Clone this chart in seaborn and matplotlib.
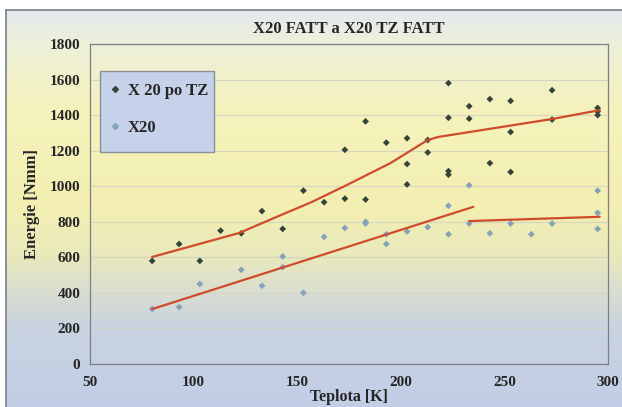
import numpy as np
import pandas as pd
import matplotlib
matplotlib.use("Agg")
import matplotlib.pyplot as plt
import seaborn as sns
from matplotlib.colors import LinearSegmentedColormap
from matplotlib.lines import Line2D
from matplotlib.patches import Rectangle

# ---------------- data ----------------
title = "X20 FATT a X20 TZ FATT"
xlabel = "Teplota [K]"
ylabel = "Energie [Nmm]"
series_names = ["X 20 po TZ", "X20"]

tz_x = [80, 93, 103, 113, 123, 133, 143, 153, 163, 173, 173, 183, 183, 193,
        203, 203, 203, 213, 213, 223, 223, 223, 223, 233, 233, 243, 243,
        253, 253, 253, 273, 273, 295, 295, 295]
tz_y = [580, 675, 580, 750, 735, 860, 760, 975, 910, 1205, 930, 1365, 925, 1245,
        1270, 1125, 1010, 1260, 1190, 1580, 1385, 1085, 1065, 1450, 1380, 1490, 1130,
        1480, 1305, 1080, 1540, 1375, 1440, 1420, 1400]

x20_x = [80, 93, 103, 123, 133, 143, 143, 153, 163, 173, 183, 183, 193, 193,
         203, 213, 223, 223, 233, 233, 243, 253, 263, 273, 295, 295, 295]
x20_y = [310, 320, 450, 530, 440, 605, 545, 400, 715, 765, 800, 790, 730, 675,
         745, 770, 890, 730, 1005, 790, 735, 790, 730, 790, 975, 850, 760]

trend_tz_x = [80, 122, 143, 157, 174, 195, 213, 218, 273, 296]
trend_tz_y = [602, 737, 842, 911, 1007, 1130, 1260, 1277, 1378, 1428]
trend_x20a_x = [80, 235]
trend_x20a_y = [309, 884]
trend_x20b_x = [233, 296]
trend_x20b_y = [804, 828]

xticks = [50, 100, 150, 200, 250, 300]
yticks = [0, 200, 400, 600, 800, 1000, 1200, 1400, 1600, 1800]

# ---------------- frames ----------------
pts = pd.DataFrame({
    "T": tz_x + x20_x,
    "E": tz_y + x20_y,
    "serie": [series_names[0]] * len(tz_x) + [series_names[1]] * len(x20_x),
})
lines = pd.DataFrame({
    "T": trend_tz_x + trend_x20a_x + trend_x20b_x,
    "E": trend_tz_y + trend_x20a_y + trend_x20b_y,
    "seg": ["a"] * len(trend_tz_x) + ["b"] * len(trend_x20a_x) + ["c"] * len(trend_x20b_x),
})

dark = "#36433a"
light = "#86a2bb"

# ---------------- style ----------------
sns.set_style("white")
plt.rcParams["font.family"] = ["Liberation Serif", "DejaVu Serif"]
plt.rcParams["font.weight"] = "bold"

W, H = 622, 407
fig = plt.figure(figsize=(W / 100, H / 100), dpi=100)
fig.patch.set_facecolor("white")

# gradient background
bg = fig.add_axes([6 / W, 0, 1 - 6 / W, 1 - 10 / H], zorder=0)
stops = [(0.0, "#e4eaee"), (0.08, "#edf0da"), (0.25, "#f5f2bc"), (0.5, "#f3efb2"),
         (0.62, "#e9e9bc"), (0.72, "#d7ddd2"), (0.80, "#c9d3e0"), (1.0, "#c2cee6")]
cmap = LinearSegmentedColormap.from_list("bgc", stops)
grad = np.linspace(0, 1, 256).reshape(-1, 1)
bg.imshow(grad, aspect="auto", cmap=cmap, extent=[0, 1, 0, 1], origin="upper")
bg.set_xticks([]); bg.set_yticks([])
for s in ["right", "bottom"]:
    bg.spines[s].set_visible(False)
for s in ["top", "left"]:
    bg.spines[s].set_color("#7a7f88")
    bg.spines[s].set_linewidth(1.2)

ax = fig.add_axes([90 / W, (H - 364) / H, (608 - 90) / W, (364 - 44) / H], zorder=1)
ax.patch.set_alpha(0)

sns.scatterplot(data=pts, x="T", y="E", hue="serie", hue_order=series_names,
                palette={series_names[0]: dark, series_names[1]: light},
                marker="D", s=12, edgecolor="none", ax=ax, legend=False, zorder=3)
sns.lineplot(data=lines, x="T", y="E", units="seg", estimator=None, sort=False,
             color="#d04b2a", lw=1.6, ax=ax, legend=False, zorder=4)

ax.set_xlim(50, 300)
ax.set_ylim(0, 1800)
ax.set_xticks(xticks)
ax.set_yticks(yticks)
ax.set_xticklabels([str(v) for v in xticks], fontsize=11, fontweight="bold")
ax.set_yticklabels([str(v) for v in yticks], fontsize=11, fontweight="bold")
ax.tick_params(axis="x", direction="inout", length=7, width=0.8, color="#7a7f88", pad=5)
ax.tick_params(axis="y", direction="out", length=4, width=0.8, color="#7a7f88", pad=3)
ax.grid(axis="y", color="#d5d5c6", lw=0.8)
ax.grid(axis="x", visible=False)
for s in ax.spines.values():
    s.set_color("#7a7f88")
    s.set_linewidth(0.9)

ax.set_xlabel(xlabel, fontsize=11.5, fontweight="bold", labelpad=0)
ax.set_ylabel(ylabel, fontsize=12, fontweight="bold", labelpad=7)
ax.set_title(title, fontsize=12, fontweight="bold", pad=8)

# legend box
ax.add_patch(Rectangle((10 / 518, (364 - 152) / 320), 114 / 518, 81 / 320,
                       transform=ax.transAxes, facecolor="#c6d2ea",
                       edgecolor="#8a8f98", lw=1.0, zorder=5))
handles = [Line2D([], [], ls="none", marker="D", ms=3.0, color=dark),
           Line2D([], [], ls="none", marker="D", ms=3.0, color=light)]
leg = ax.legend(handles, series_names, loc="upper left",
                bbox_to_anchor=(17 / 518, (364 - 83) / 320), borderaxespad=0,
                frameon=False, prop={"size": 12, "weight": "bold"},
                handlelength=0.9, handletextpad=0.35, labelspacing=1.28,
                borderpad=0)
leg.set_zorder(6)

fig.savefig("out.png", dpi=100)
